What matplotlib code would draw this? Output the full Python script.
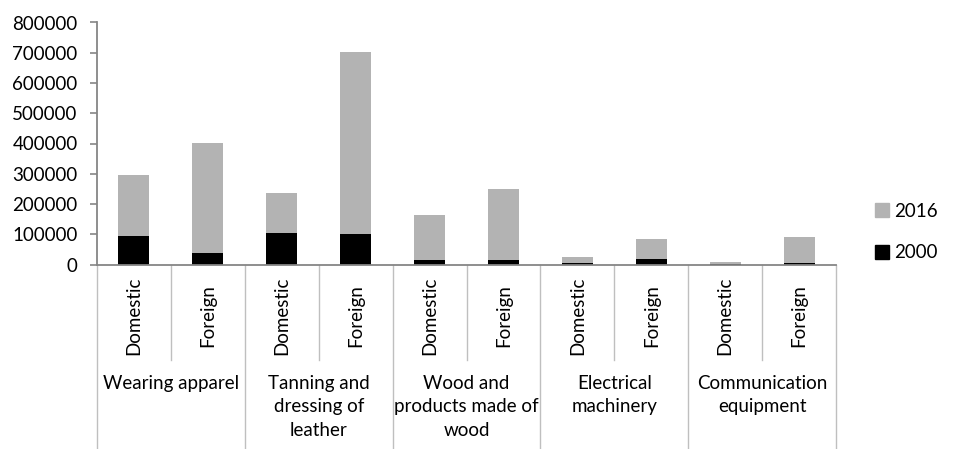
import matplotlib.pyplot as plt
from matplotlib.patches import Patch

plt.rcParams['font.family'] = ['Lato', 'DejaVu Sans']

industries = ['Wearing apparel', 'Tanning and\ndressing of\nleather',
              'Wood and\nproducts made of\nwood', 'Electrical\nmachinery',
              'Communication\nequipment']
owners = ['Domestic', 'Foreign']

# stacked segments: 2000 at the bottom, 2016 on top
vals_2000 = [94000, 39000, 105000, 102000, 16000, 16000, 6000, 19000, 1000, 4000]
vals_2016 = [201000, 364000, 131000, 600000, 148000, 233000, 19000, 66000, 7000, 87000]

gray = '#b3b3b3'
axis_col = '#868686'

fig = plt.figure(figsize=(9.74, 4.49), dpi=100)
ax = fig.add_axes([97 / 974, 1 - 264.5 / 449, (836 - 97) / 974, 242 / 449])

n = len(vals_2000)
xs = list(range(n))
ax.bar(xs, vals_2000, width=0.42, color='black', zorder=2)
ax.bar(xs, vals_2016, width=0.42, bottom=vals_2000, color=gray, zorder=2)

ax.set_xlim(-0.5, n - 0.5)
ax.set_ylim(0, 800000)
ax.set_yticks(range(0, 800001, 100000))
ax.tick_params(axis='y', labelsize=13.5, length=5, width=1.2, color=axis_col, pad=9)
ax.set_xticks([])
for s in ['top', 'right']:
    ax.spines[s].set_visible(False)
for s in ['left', 'bottom']:
    ax.spines[s].set_color(axis_col)
    ax.spines[s].set_linewidth(1.3)

# multi-level category axis drawn below the plot area
trans = ax.get_xaxis_transform()
ax_h = 242.0
sub_bottom = -(360 - 264.5) / ax_h
full_bottom = -(449 - 264.5) / ax_h
for i in range(n // 2):
    ax.plot([2 * i + 0.5] * 2, [0, sub_bottom], transform=trans,
            color='#bfbfbf', lw=1, clip_on=False)
for i in range(n // 2 + 1):
    ax.plot([2 * i - 0.5] * 2, [0, full_bottom], transform=trans,
            color='#bfbfbf', lw=1, clip_on=False)

for i in xs:
    ax.text(i, -(316 - 264.5) / ax_h, owners[i % 2], transform=trans,
            rotation=90, ha='center', va='center', fontsize=13.5)

for g, name in enumerate(industries):
    ax.text(2 * g + 0.5, -(375 - 264.5) / ax_h, name, transform=trans,
            ha='center', va='top', fontsize=13.5, linespacing=1.45)

handles = [Patch(color=gray, label='2016'), Patch(color='black', label='2000')]
fig.legend(handles=handles, loc='center left', bbox_to_anchor=(858 / 974, 1 - 232 / 449),
           frameon=False, fontsize=13.5, handlelength=0.75, handleheight=0.75,
           handletextpad=0.3, labelspacing=1.3)

fig.savefig('out.png', dpi=100)
